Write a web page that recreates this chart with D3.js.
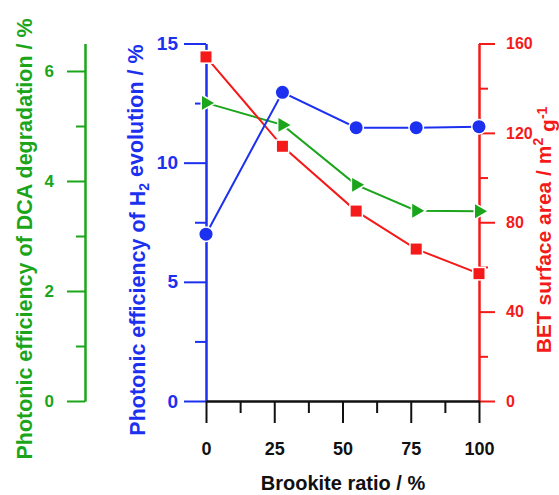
<!DOCTYPE html>
<html><head><meta charset="utf-8">
<script src="https://cdn.jsdelivr.net/npm/d3@7"></script>
<style>
  body { margin: 0; background: #fff; }
  text { font-family: "Liberation Sans", Arial, sans-serif; font-weight: bold; }
</style>
</head><body>
<svg id="chart" width="559" height="495"></svg>
<script>
// Brookite content of the TiO2 samples (%)
const brookiteRatio = [0, 28, 55, 77, 100];
// Photonic efficiency of H2 evolution (%)
const h2Efficiency = [7.0, 12.95, 11.47, 11.47, 11.51];
// BET surface area (m2 g-1)
const betArea = [154, 114, 85, 68, 57];
// Photonic efficiency of DCA degradation (%)
const dcaEfficiency = [5.42, 5.02, 3.93, 3.46, 3.45];

// Tick values
const xMajor = [0, 25, 50, 75, 100];
const xMinor = [12.5, 37.5, 62.5, 87.5];
const h2Major = [0, 5, 10, 15];
const h2Minor = [2.5, 7.5, 12.5];
const betMajor = [0, 40, 80, 120, 160];
const betMinor = [20, 60, 100, 140];
const dcaMajor = [0, 2, 4, 6];
const dcaMinor = [1, 3, 5];

const BLUE = "#1c30f0", RED = "#f51a1a", GREEN = "#1ba51b", BLACK = "#111";

const svg = d3.select("#chart");

const x = d3.scaleLinear().domain([0, 100]).range([206, 479]);
const yH2 = d3.scaleLinear().domain([0, 15]).range([401, 43.5]);
const yBet = d3.scaleLinear().domain([0, 160]).range([401, 43.5]);
const yDca = d3.scaleLinear().domain([0, 6.5]).range([401, 43.5]);

function styleAxis(g, color, fontSize) {
  g.selectAll("path.domain").attr("stroke", color).attr("stroke-width", 2);
  g.selectAll(".tick line").attr("stroke", color).attr("stroke-width", 2);
  g.selectAll(".tick text").attr("fill", color)
    .style("font-size", fontSize + "px").style("font-weight", "bold")
    .style("font-family", "'Liberation Sans', Arial, sans-serif");
}

// Green DCA axis (far left)
const gDcaMinor = svg.append("g").attr("transform", "translate(85,0)")
  .call(d3.axisLeft(yDca).tickValues(dcaMinor).tickSize(9).tickSizeOuter(0).tickFormat(""));
styleAxis(gDcaMinor, GREEN, 17);
const gDca = svg.append("g").attr("transform", "translate(85,0)")
  .call(d3.axisLeft(yDca).tickValues(dcaMajor).tickSize(18).tickSizeOuter(0).tickPadding(13).tickFormat(d3.format("d")));
styleAxis(gDca, GREEN, 17);

// Blue H2 axis
const gH2Minor = svg.append("g").attr("transform", "translate(206,0)")
  .call(d3.axisLeft(yH2).tickValues(h2Minor).tickSize(11).tickSizeOuter(0).tickFormat(""));
styleAxis(gH2Minor, BLUE, 18);
const gH2 = svg.append("g").attr("transform", "translate(206,0)")
  .call(d3.axisLeft(yH2).tickValues(h2Major).tickSize(22).tickSizeOuter(0).tickPadding(6).tickFormat(d3.format("d")));
styleAxis(gH2, BLUE, 19);

// Red BET axis
const gBetMinor = svg.append("g").attr("transform", "translate(479,0)")
  .call(d3.axisRight(yBet).tickValues(betMinor).tickSize(9).tickSizeOuter(0).tickFormat(""));
styleAxis(gBetMinor, RED, 16);
const gBet = svg.append("g").attr("transform", "translate(479,0)")
  .call(d3.axisRight(yBet).tickValues(betMajor).tickSize(16).tickSizeOuter(0).tickPadding(11).tickFormat(d3.format("d")));
styleAxis(gBet, RED, 16);

// Black x axis
const gXMinor = svg.append("g").attr("transform", "translate(0,401)")
  .call(d3.axisBottom(x).tickValues(xMinor).tickSize(12).tickSizeOuter(0).tickFormat(""));
styleAxis(gXMinor, BLACK, 18);
const gX = svg.append("g").attr("transform", "translate(0,401)")
  .call(d3.axisBottom(x).tickValues(xMajor).tickSize(22).tickSizeOuter(0).tickPadding(19).tickFormat(d3.format("d")));
styleAxis(gX, BLACK, 18);

// Axis titles
svg.append("text")
  .attr("transform", "translate(32,239) rotate(-90)")
  .attr("text-anchor", "middle").attr("fill", GREEN).style("font-size", "21.5px")
  .text("Photonic efficiency of DCA degradation / %");

const h2Title = svg.append("text")
  .attr("transform", "translate(145,240) rotate(-90)")
  .attr("text-anchor", "middle").attr("fill", BLUE).style("font-size", "21.5px");
h2Title.append("tspan").text("Photonic efficiency of H");
h2Title.append("tspan").attr("dy", "0.3em").style("font-size", "14px").text("2");
h2Title.append("tspan").attr("dy", "-0.3em").text(" evolution / %");

const betTitle = svg.append("text")
  .attr("transform", "translate(551,230) rotate(-90)")
  .attr("text-anchor", "middle").attr("fill", RED).style("font-size", "21px");
betTitle.append("tspan").text("BET surface area / m");
betTitle.append("tspan").attr("dy", "-0.55em").style("font-size", "14px").text("2");
betTitle.append("tspan").attr("dy", "0.55em").text(" g");
betTitle.append("tspan").attr("dy", "-0.55em").style("font-size", "14px").text("-1");

svg.append("text")
  .attr("x", 343).attr("y", 490)
  .attr("text-anchor", "middle").attr("fill", BLACK).style("font-size", "20px")
  .text("Brookite ratio / %");

// Series
const series = [
  { values: dcaEfficiency, y: yDca, color: GREEN, marker: "triangle" },
  { values: betArea, y: yBet, color: RED, marker: "square" },
  { values: h2Efficiency, y: yH2, color: BLUE, marker: "circle" },
];

series.forEach(s => {
  const pts = brookiteRatio.map((r, i) => [x(r), s.y(s.values[i])]);
  svg.append("path")
    .attr("d", d3.line()(pts))
    .attr("fill", "none").attr("stroke", s.color).attr("stroke-width", 2);
});

series.forEach(s => {
  const pts = brookiteRatio.map((r, i) => [x(r), s.y(s.values[i])]);
  const g = svg.append("g");
  pts.forEach(([px, py]) => {
    let m;
    if (s.marker === "circle") {
      m = g.append("circle").attr("cx", px).attr("cy", py).attr("r", 6.5);
    } else if (s.marker === "square") {
      m = g.append("rect").attr("x", px - 5.5).attr("y", py - 5.5).attr("width", 11).attr("height", 11);
    } else {
      const r = 8;
      m = g.append("path")
        .attr("d", `M${px + r},${py} L${px - r / 2},${py - r * 0.866} L${px - r / 2},${py + r * 0.866} Z`);
    }
    m.attr("fill", s.color).attr("stroke", "#fff").attr("stroke-width", 3)
      .style("paint-order", "stroke");
  });
});
</script></body></html>
